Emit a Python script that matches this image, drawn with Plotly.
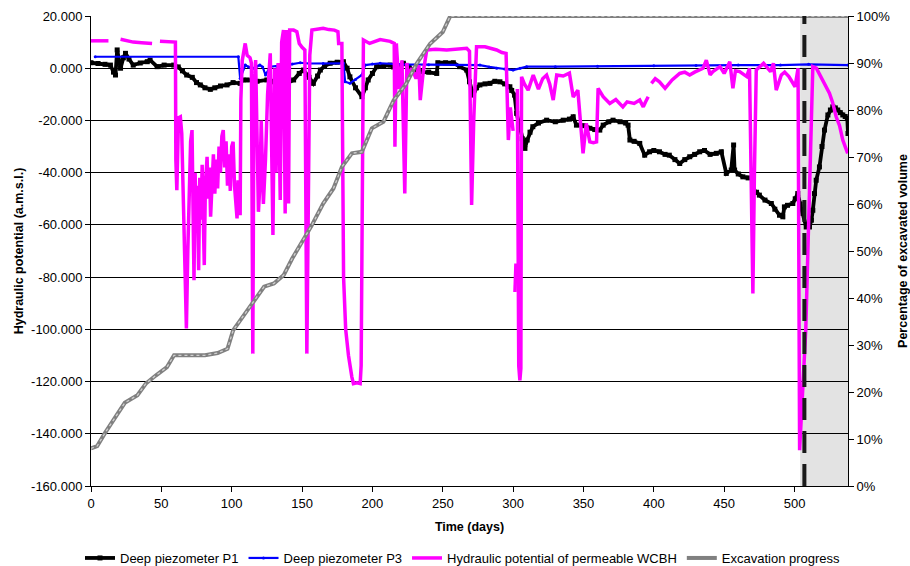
import plotly.graph_objects as go

# ---------------- data ----------------
p1_days = [0, 5, 10, 13.8, 16, 17.4, 18.6, 20, 21, 23, 24.5, 27, 30, 35, 40, 42, 47, 52, 58.8, 62, 65, 68, 72, 75,
           77.7, 81, 84.8, 88, 92, 96.7, 101, 106, 108, 111, 118, 125, 128, 132, 134.5, 139, 144, 148, 151, 155,
           158, 161, 163, 166, 170, 175, 179.4, 182, 184, 188, 192.5, 195, 197, 200, 203, 208, 212.6, 215, 218.5,
           220, 222, 226, 229, 234, 240, 245.7, 246.5, 252, 257.5, 262, 267, 269, 271.7, 274, 276.4, 280, 283.5,
           287, 290.6, 294, 297.7, 299, 301, 302.5, 304.8, 306.5, 308.4, 310, 312, 314, 318, 323.8, 330, 335.6,
           340, 342.7, 345, 350, 354.5, 358, 361.6, 364, 368, 371, 376, 380, 381.7, 383, 386, 390, 393.5, 397,
           400, 404, 408, 411, 415, 418.4, 422, 425.5, 429, 432.6, 436, 440, 444.4, 448, 451.5, 455, 456.7,
           457.4, 460, 463.3, 467, 470.4, 471.6, 473, 475, 479, 483.5, 486, 489.3, 491.7, 492.8, 495, 498.8,
           500.5, 502.3, 504, 506, 508.3, 510.6, 512, 513, 514.2, 515.4, 517.7, 519.5, 521.3, 523.7, 525.5,
           527.2, 529, 530.7, 532.5, 534.3, 536, 537.5, 538]
p1_vals = [2.1, 1.8, 1.5, 1.2, -1.5, -2.6, 7.0, 2.0, 0, 4.0, 5.7, 3.5, 1.2, 2.0, 2.5, 3.1, 0.6, 1.2, 1.2, 0.5, -1.0,
           -2.6, -3.5, -5.5, -6.4, -7.5, -8.1, -7.5, -6.8, -6.4, -5.5, -5.8, -4.5, -4.5, -5.0, -4.5, -5.0, -6.4,
           -6.4, -5.8, -4.5, -2.0, -0.7, -3.5, -5.8, -3.0, -0.7, 0.8, 1.9, 2.3, 2.5, 0, -3.3, -7.5, -10.9, -7.5,
           -4.5, -2.0, 0.6, 1.0, 1.2, 0.5, -2.0, 0.5, 1.9, 0.5, -0.7, -1.3, -1.5, -2.0, 2.1, 2.1, 2.1, 0.6, -0.7,
           -5.2, -10.3, -7.5, -6.4, -6.0, -5.8, -5.0, -5.2, -6.0, -7.1, -8.5, -10.3, -17.3, -22.4, -27, -30.7,
           -27.5, -24.5, -22.4, -21, -19.9, -20.5, -19.9, -19.5, -18.6, -21.8, -22, -23.0, -23.5, -23.7, -21.8,
           -20.5, -19.9, -20.5, -21.0, -21.8, -27.5, -28.0, -28.8, -33.3, -32.0, -31.5, -32.0, -33.0, -33.3,
           -35.0, -36.5, -35.0, -33.9, -33.0, -32.0, -31.5, -33.0, -32.6, -32.0, -40.3, -39.0, -29.4, -39.0,
           -40.5, -41.6, -42.0, -42.2, -47.5, -47.5, -48.6, -50.5, -51.8, -54, -56.3, -56.9, -53.1, -52.5, -51.8,
           -50, -48.0, -52, -55.6, -60.8, -60.8, -58.2, -54.4, -48.0, -42.9, -37.8, -30, -23.7, -17.9, -16,
           -14.8, -15.2, -16.0, -17, -17.9, -18.5, -19.2, -25.0]

p3_days = [3, 104.7, 106, 109.7, 112, 115.5, 118, 120, 122, 124, 127.4, 132, 137, 143, 148.7, 155, 165, 179.4,
           180.6, 184, 188, 192.5, 194.8, 200, 205.5, 220, 240, 260, 276.4, 283, 288.3, 294, 300, 305, 309.6,
           330, 360, 400, 430, 460, 490, 510, 538]
p3_vals = [4.4, 4.4, -3.9, 1.2, 0.5, 0, 0.8, 1.2, 0.5, -2.6, 0.6, 0.8, 1.2, 1.6, 2.1, 1.8, 1.8, 1.9, -5.2, -5.8,
           -4.3, -2.6, 1.2, 1.6, 1.9, 1.5, 1.3, 1.2, 1.2, 0.5, 0, -0.3, -0.7, 0, 0.6, 0.6, 0.8, 0.9, 1.0, 1.2,
           1.2, 1.5, 1.2]

wcbh_days = [0, 12.4, 12.5, 21, 25, 30, 36, 43.4, 43.5, 49, 55, 60, 60.3, 61, 62.2, 63.5, 64.5, 65.5, 66.5, 67.8,
             68.8, 69.8, 70.8, 71.8, 72.6, 73.2, 74, 74.8, 75.5, 76.5, 77.3, 78.2, 79, 79.8, 80.5, 81.3, 82.5,
             83.3, 84.2, 85, 86, 87, 88, 89, 90, 91, 92, 93, 94, 95, 96, 97, 98, 99, 100, 101, 102, 103.8, 104.5,
             106, 106.5, 107.5, 109.6, 111, 113, 114, 115, 115.8, 117, 118, 119, 120, 121, 122.5, 124, 125.5,
             127.4, 129.3, 130.5, 131.5, 133, 134.5, 135.5, 136.8, 137.5, 138, 139, 140.4, 141.2, 144, 146.3,
             148, 150, 152, 153.4, 155.5, 157, 161, 165, 169, 173, 175.5, 176, 178.3, 179.5, 181, 183, 185.4,
             186.5, 189, 191.3, 192, 192.8, 193.6, 198, 205.5, 212.6, 215.5, 216, 217, 219, 221, 223, 224.5,
             225.5, 228, 231, 233, 234, 236, 238.6, 245, 252.8, 260, 267, 269, 270.5, 272, 274, 280, 284, 288.3,
             292, 295, 296.6, 298, 300, 300.5, 301.3, 302, 302.5, 303, 304, 304.8, 305.5, 306, 308, 310.7, 314.3,
             318, 321, 323.8, 326, 328.5, 331, 335.6, 340, 342.7, 346, 349.7, 352, 354.5, 357, 359.3, 360.4, 364,
             368.7, 373, 378, 381, 386, 390, 392.5, 394, 396, 397, 398.3, 401, 404, 408, 413, 416, 418.4, 422,
             425.5, 429, 432.6, 435, 437.3, 440, 442, 447, 450, 454, 456.2, 458, 461, 466, 468, 469.5, 470.4,
             471.5, 472.8, 478, 483, 485, 487, 490.6, 493, 496, 500.4, 502.5, 503.6, 508, 511, 513, 515.5, 520,
             524.8, 527, 529.6, 532, 534.3, 536, 537.8]
wcbh_vals = [10.5, 10.5, None, 11.1, 10.5, 10.0, 9.8, 9.5, None, 10.3, 10.0, 10.0, -35, -46.7, -19, -18.6, -25,
             -45, -65, -99.7, -70, -40, -28, -23.7, -55, -81.2, -40, -62, -45, -77.4, -42, -58, -37, -70, -75.4,
             -45, -33.9, -50, -38, -56.9, -42, -33, -48, -35, -46, -30, -40, -26, -23.7, -38, -28, -45, -33, -47,
             -30, -28.2, -45, -57.5, -42.9, -56.3, -12, 3, 9.5, 4.9, 4, 2, -109.3, -10, 3.1, -30, -55, -45, -20,
             -52, -35, -10, 5.7, -63.9, 0, -40, 2, -50.5, 10, 14.6, -40, -55.6, 14.6, -51.8, 14.6, 14.6, 14.0,
             9.5, 8.0, 7.0, -109.3, 5, 14.6, 15.0, 15.3, 14.8, 14.6, 14, 9.5, 9.5, -80, -100, -110, -118.3,
             -120.8, -120.5, -120.8, -113.8, -60, 10.8, 9.5, 11.0, 10.3, 9.5, -30.1, 9.5, -8, 3, -48, 2, -3.3, 0,
             -4, 1.2, -12.2, -2, 7.0, 7.3, 7.0, 7.3, 7.6, 6.5, -52.4, -20, 8.2, 8.2, 7.5, 7.0, 6.0, 5.7, -27.5,
             -15, -24, None, -85.7, -74.8, None, -8, -114, -119.5, -115, -3.3, -6, -8.4, -2.6, -8, -4, -2.6, -6,
             -12.2, -2.6, -3.0, -1.9, -11, -8.4, -32.6, -21.1, -28.2, -28.5, -28.2, -7.7, -10.9, -13.5, -12,
             -14.8, -12.9, -13.5, -12.2, -14.8, -13, -10.9, None, -5.8, -4, -5.2, -7.7, -4.5, -3, -2.0, -1.5,
             -2.6, -1.5, -0.7, 0, 3.1, -2.5, -1.3, 0.6, -2, 2.5, -7.7, -1, -1.3, -3.2, 0, -50, -86.3, -40, -0.7,
             1.9, -1.3, 1.9, -8.4, -2.6, -1.5, -3.2, -7.1, 0, -146.3, -100, -40, 0.6, 0, -4.5, -9.6, -13, -18.6,
             -22, -27.5, -30, -32.6]

exc_days = [0, 4.4, 10, 17, 24, 33, 39, 46, 54, 59, 81, 90, 97, 101, 108.5, 116, 123, 130, 137, 143, 151, 157,
            165, 172.3, 178.3, 185.4, 192.5, 199.6, 207.8, 215, 224, 231.5, 241, 250, 255, 256, 538]
exc_pct = [8.0, 8.5, 11.3, 14.5, 17.7, 19.3, 21.8, 23.5, 25.3, 27.8, 27.8, 28.3, 29.2, 33.1, 36.3, 39.5, 42.4,
           43.1, 44.9, 48.4, 52.3, 55.5, 60.1, 63.3, 67.9, 70.8, 71.1, 76.1, 77.5, 82.0, 85.6, 89.9, 94.1, 96.6,
           99.8, 100, 100]

x_ticks = [0, 50, 100, 150, 200, 250, 300, 350, 400, 450, 500]
y_ticks = [-160, -140, -120, -100, -80, -60, -40, -20, 0, 20]
y_ticktext = ["-160.000", "-140.000", "-120.000", "-100.000", "-80.000", "-60.000", "-40.000", "-20.000",
              "0.000", "20.000"]
shade_start, shade_end, dash_day = 504, 538, 507

# ---------------- figure ----------------
W, H = 910, 566
PL, PR, PT, PB = 91, 848, 16, 486          # plot-area edges in pixels
MB = H - PB                                 # bottom margin (80 px)
FONT = "Liberation Sans, Arial, sans-serif"
fig = go.Figure()

fig.add_trace(go.Scatter(x=p1_days, y=p1_vals, name="Deep piezometer P1", mode="lines+markers",
                         line=dict(color="#000000", width=3.8),
                         marker=dict(symbol="square", size=5, color="#000000")))
fig.add_trace(go.Scatter(x=p3_days, y=p3_vals, name="Deep piezometer P3", mode="lines+markers",
                         line=dict(color="#0000ff", width=2.2),
                         marker=dict(symbol="circle", size=3, color="#0000ff")))
fig.add_trace(go.Scatter(x=wcbh_days, y=wcbh_vals, name="Hydraulic potential of permeable WCBH", mode="lines",
                         line=dict(color="#ff00ff", width=3.5), connectgaps=False))
fig.add_trace(go.Scatter(x=exc_days, y=exc_pct, name="Excavation progress", mode="lines", yaxis="y2",
                         line=dict(color="#808080", width=4)))
fig.add_trace(go.Scatter(x=exc_days, y=exc_pct, mode="lines", yaxis="y2", showlegend=False, hoverinfo="skip",
                         line=dict(color="#cfcfcf", width=1.3, dash="dot")))

fig.add_shape(type="rect", xref="x", yref="y domain", x0=shade_start, x1=shade_end, y0=0, y1=1,
              fillcolor="#e3e3e3", line=dict(width=0), layer="below")
fig.add_shape(type="line", xref="x", yref="y domain", x0=dash_day, x1=dash_day, y0=0, y1=1,
              line=dict(color="#1a1a1a", width=4, dash="22px,11px"), layer="above")

axis_font = dict(family=FONT, size=13, color="#000000")
title_font = dict(family=FONT, size=12.5, color="#000000")
xdom = [PL / W, PR / W]
ydom = [0, (PB - PT) / PB]

fig.update_layout(
    width=W, height=H,
    template="none",
    paper_bgcolor="white", plot_bgcolor="white",
    margin=dict(l=0, r=0, t=0, b=MB),
    font=dict(family=FONT, size=13, color="#000000"),
    xaxis=dict(domain=xdom, range=[0, 538], tickvals=x_ticks, ticks="outside", ticklen=5, tickcolor="#000",
               showline=True, linecolor="#000", linewidth=1, showgrid=False, zeroline=False,
               tickfont=axis_font, automargin=False,
               title=dict(text="<b>Time (days)</b>", font=title_font, standoff=12)),
    yaxis=dict(domain=ydom, range=[-160, 20], tickvals=y_ticks, ticktext=y_ticktext, ticks="outside",
               ticklen=5, tickcolor="#000", showline=True, linecolor="#000", linewidth=1, showgrid=True,
               gridcolor="#000000", gridwidth=1, zeroline=False, tickfont=axis_font, automargin=False,
               title=dict(text="<b>Hydraulic potential (a.m.s.l.)</b>", font=title_font, standoff=4)),
    yaxis2=dict(range=[0, 100], dtick=10, ticksuffix="%", overlaying="y", side="right", ticks="outside",
                ticklen=5, tickcolor="#000", showline=True, linecolor="#000", linewidth=1, showgrid=False,
                zeroline=False, tickfont=axis_font, automargin=False,
                title=dict(text="<b>Percentage of excavated volume</b>", font=title_font, standoff=8)),
    legend=dict(orientation="h", x=80 / W, xanchor="left", xref="paper",
                y=(H - 558) / H, yanchor="middle", yref="container",
                font=dict(family=FONT, size=13, color="#000"), bgcolor="rgba(0,0,0,0)",
                traceorder="normal"),
    showlegend=True,
)

fig.write_html("out.html", config={"displayModeBar": False},
               post_script="document.body.style.margin='0';"
                           "var gd=document.getElementById('{plot_id}');"
                           "Plotly.relayout(gd, {'xaxis.title.standoff': 12});")
